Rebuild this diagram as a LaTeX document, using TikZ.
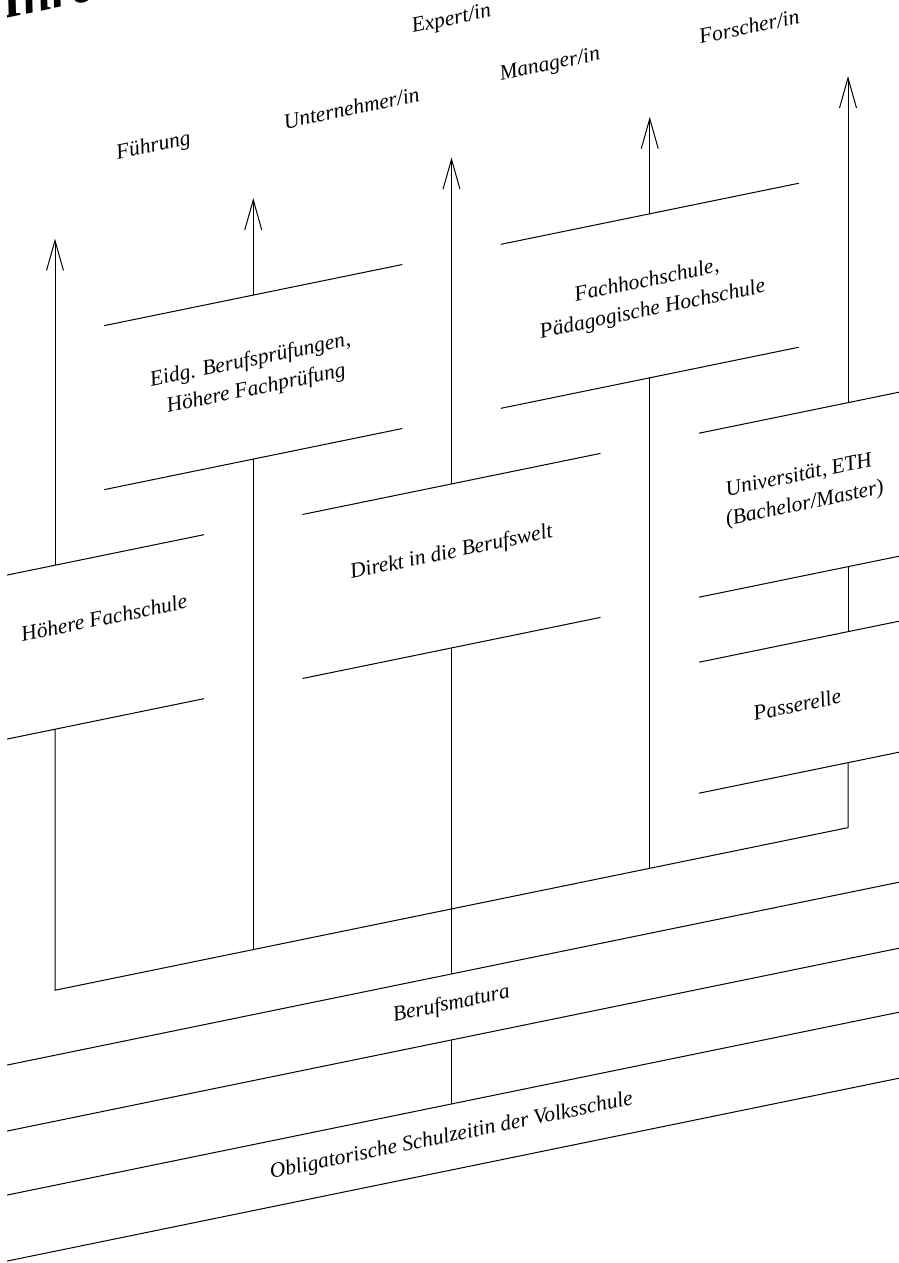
\documentclass[tikz,border=0pt]{standalone}
\usepackage{fontspec}
\setmainfont{Liberation Serif}
\usetikzlibrary{arrows.meta}

\begin{document}
\begin{tikzpicture}[x=0.5pt,y=-0.5pt,line width=0.5pt,
    frame/.style={minimum width=148.5pt,minimum height=81.5pt,inner sep=0pt,transform shape},
    lbl/.style={align=center,inner sep=0pt,rotate=11.6,font=\itshape\fontsize{10.8}{14.5}\selectfont},
    >={Straight Barb[length=15pt,width=8.5pt]}]
  \useasboundingbox (0,0) rectangle (899,1263);
  \clip (7,0) rectangle (899,1263);
  \begin{scope}[yslant=0.205]
    % title, cut by the page edge
    \node[rotate=11.6,anchor=base west,inner sep=0pt,font=\bfseries\itshape\fontsize{26}{30}\selectfont] (title) at (5,20) {Ihre Karriere};
    % stages
    \node[frame] (eidg) at (253.25,429) {};
    \node[frame] (fh) at (649.75,429) {};
    \node[frame] (hfs) at (55,658.5) {};
    \node[frame] (direkt) at (451.5,658.5) {};
    \node[frame] (uni) at (848,658.5) {};
    \node[frame,minimum height=65pt] (pass) at (848,871) {};
    \node[frame,minimum width=500pt,minimum height=32.5pt] (bm) at (451.5,1099.5) {};
    \node[frame,minimum width=500pt,minimum height=32.5pt] (vs) at (451.5,1229.5) {};
    \foreach \n in {eidg,fh,hfs,direkt,uni,pass,bm,vs}
      \draw (\n.north west) -- (\n.north east) (\n.south west) -- (\n.south east);
    % stage texts
    \node[lbl] (eidg-lbl) at (253.25,427) {Eidg. Berufsprüfungen,\\Höhere Fachprüfung};
    \node[lbl] (fh-lbl) at (649.75,429) {Fachhochschule,\\Pädagogische Hochschule};
    \node[lbl] (hfs-lbl) at (104,639) {Höhere Fachschule};
    \node[lbl] (direkt-lbl) at (451.5,645.5) {Direkt in die Berufswelt};
    \node[lbl] (uni-lbl) at (802,655) {Universität, ETH\\(Bachelor/Master)};
    \node[lbl] (pass-lbl) at (797,868) {Passerelle};
    \node[lbl] (bm-lbl) at (451.5,1097) {Berufsmatura};
    \node[lbl] (vs-lbl) at (451.5,1229) {Obligatorische Schulzeitin der Volksschule};
    % careers
    \node[lbl] (fuehrung) at (153.5,178) {Führung};
    \node[lbl] (unternehmer) at (351.5,180) {Unternehmer/in};
    \node[lbl] (expert) at (451.5,112.5) {Expert/in};
    \node[lbl] (manager) at (550,178) {Manager/in};
    \node[lbl] (forscher) at (749,180) {Forscher/in};
    % arrows up
    \coordinate (hfs-top) at (55,250);
    \coordinate (eidg-top) at (253.25,250);
    \coordinate (direkt-top) at (451.5,250);
    \coordinate (fh-top) at (649.75,250);
    \coordinate (uni-top) at (848,250);
    \foreach \n in {hfs,eidg,direkt,fh,uni}
      \draw[->] (\n.north) -- (\n-top);
    % ways down
    \coordinate (hfs-j) at (55,1001.5);
    \coordinate (eidg-j) at (253.25,1001.5);
    \coordinate (fh-j) at (649.75,1001.5);
    \coordinate (pass-j) at (848,1001.5);
    \draw (hfs.south) -- (hfs-j) -- (pass-j) -- (pass.south);
    \draw (eidg.south) -- (eidg-j);
    \draw (fh.south) -- (fh-j);
    \draw (direkt.south) -- (bm.north);
    \draw (uni.south) -- (pass.north);
    \draw (bm.south) -- (vs.north);
  \end{scope}
\end{tikzpicture}
\end{document}
